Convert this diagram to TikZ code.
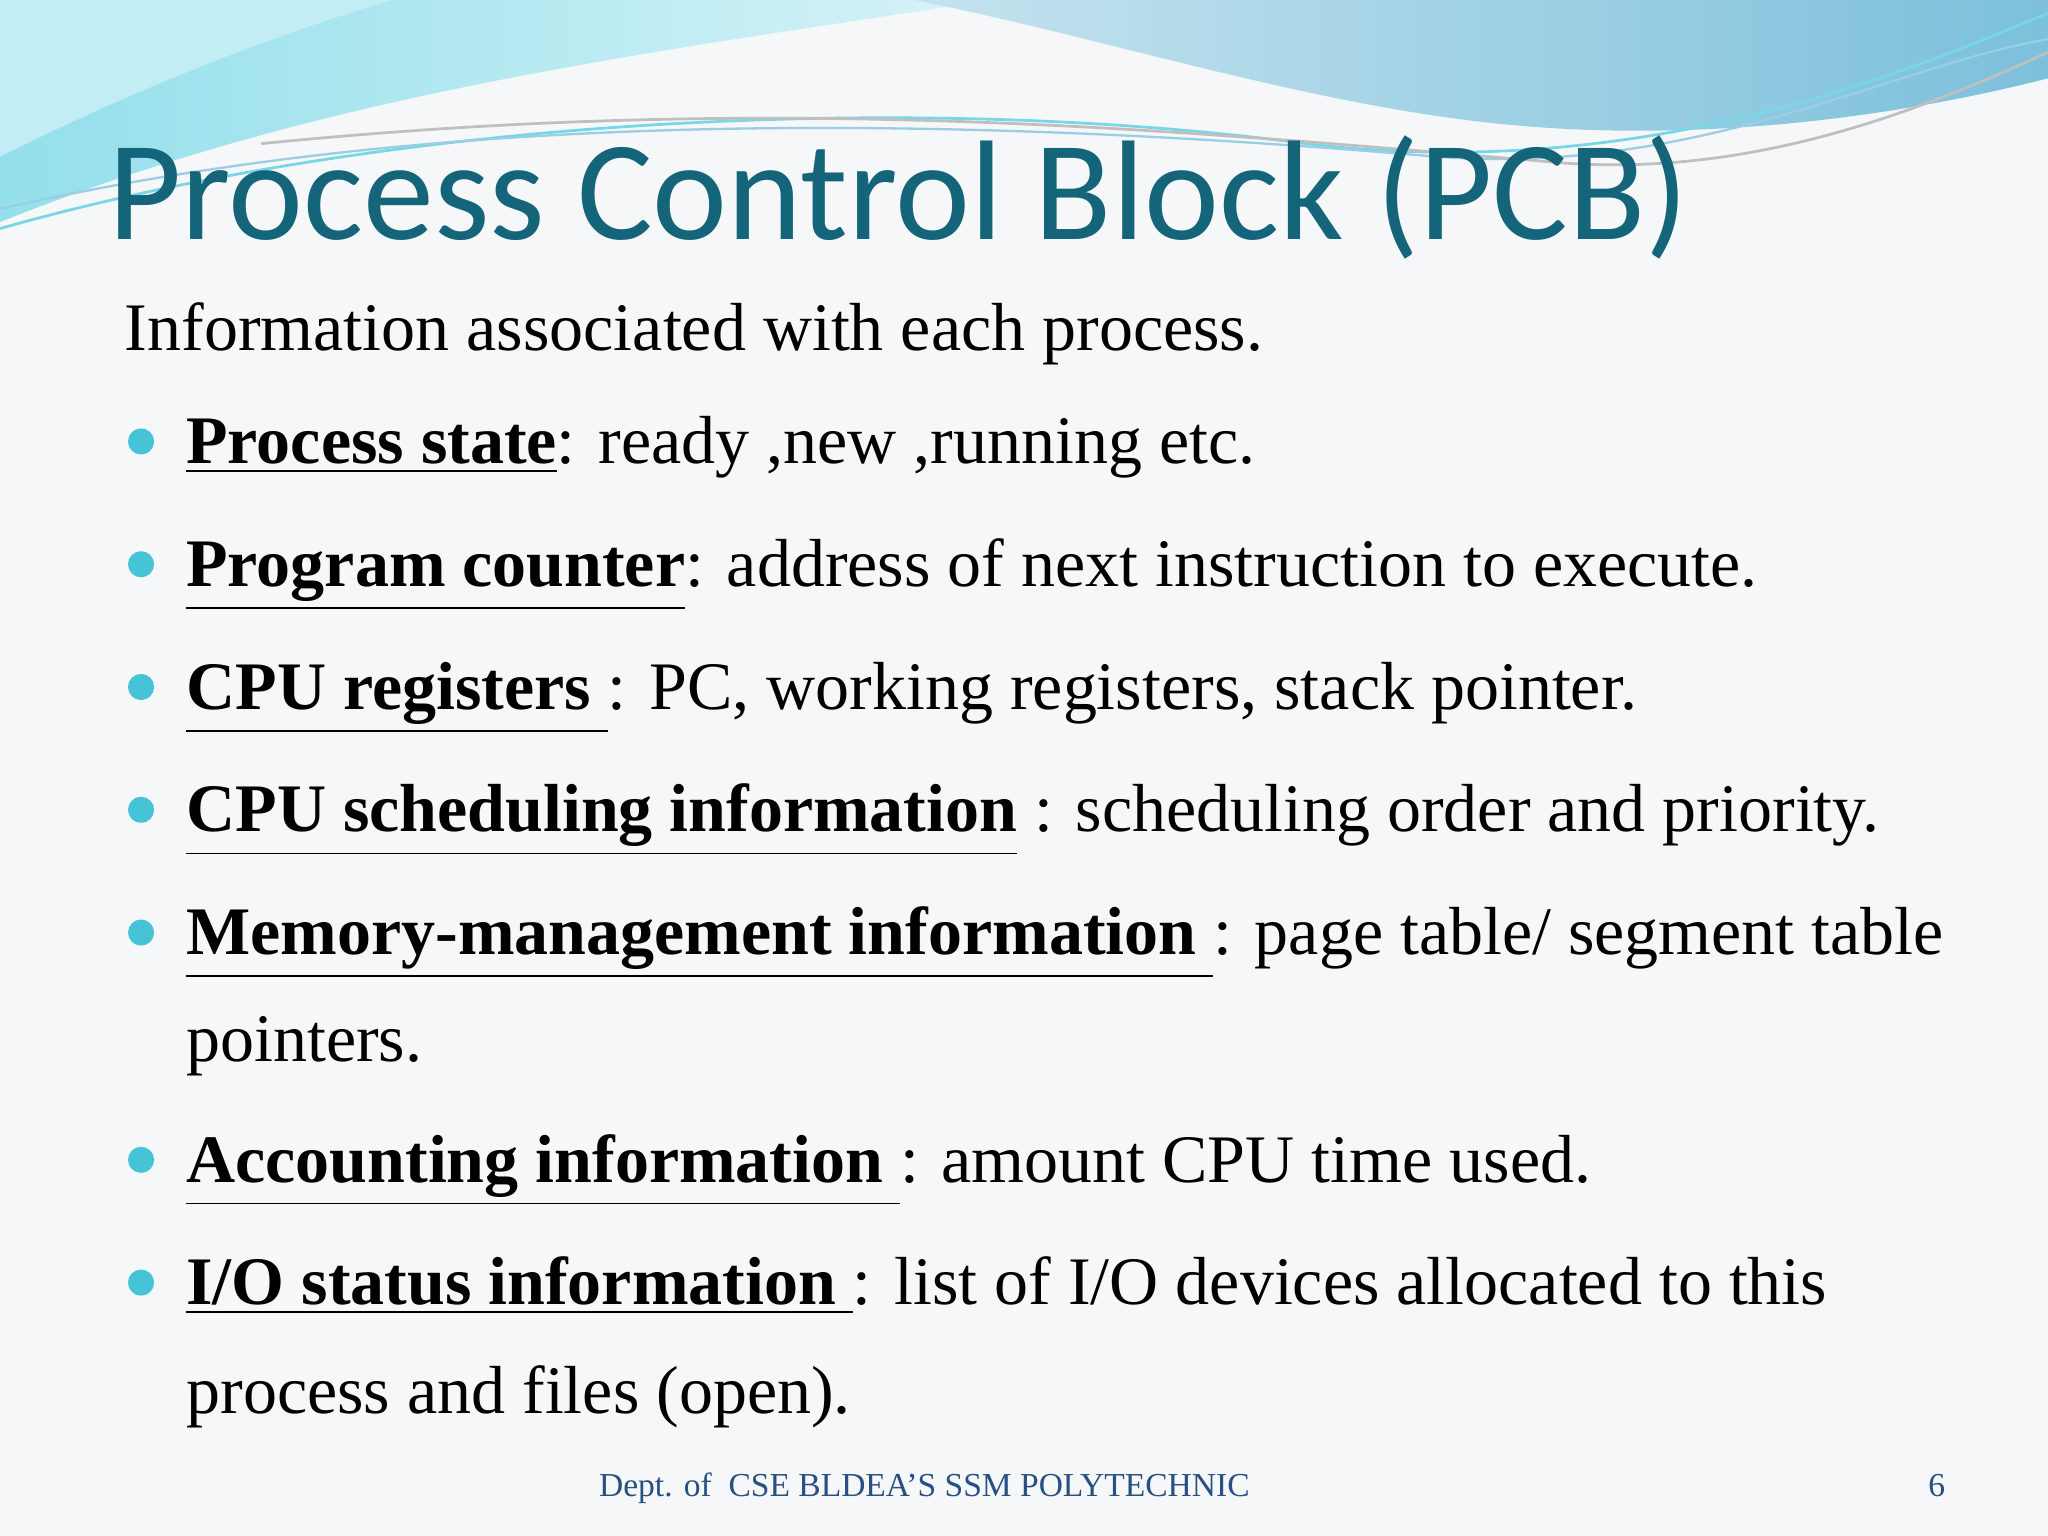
\documentclass[tikz,border=0pt]{standalone}
\usepackage{fontspec}
\setmainfont{Liberation Serif}
\newfontfamily\titlefont{Carlito}
\definecolor{titlec}{RGB}{20,100,122}
\definecolor{bulc}{RGB}{70,195,215}
\definecolor{footc}{RGB}{40,80,130}
\definecolor{bgc}{RGB}{246,247,248}
\definecolor{wavea}{RGB}{120,215,230}
\definecolor{waveb}{RGB}{110,185,215}
\newcommand{\ul}[1]{\underline{\smash{#1}}}
\begin{document}
\begin{tikzpicture}[x=0.01cm,y=-0.01cm,
  body/.style={anchor=base west,inner sep=0pt,font=\fontsize{14.8}{18}\selectfont},
  bul/.style={circle,fill=bulc,inner sep=0pt,minimum size=0.2cm}]
\useasboundingbox (0,0) rectangle (1568,1176);
\fill[bgc] (0,0) rectangle (1568,1176);
% waves
\shade[left color=wavea!80,right color=wavea!30] (0,0) -- (760,0) .. controls (500,40) and (250,70) .. (0,170) -- cycle;
\shade[left color=waveb!40,right color=waveb!90] (700,0) -- (1568,0) -- (1568,60) .. controls (1450,90) and (1300,110) .. (1150,95) .. controls (1000,80) and (850,30) .. (700,0) -- cycle;
\fill[wavea!45] (0,0) -- (300,0) .. controls (200,30) and (100,70) .. (0,120) -- cycle;
\draw[wavea,line width=0.6pt] (0,175) .. controls (300,90) and (700,70) .. (1000,110) .. controls (1250,140) and (1450,60) .. (1568,10);
\draw[waveb!70,line width=0.5pt] (0,160) .. controls (350,80) and (750,90) .. (1100,120) .. controls (1300,135) and (1450,50) .. (1568,30);
\draw[black!25,line width=0.6pt] (200,110) .. controls (600,70) and (900,100) .. (1200,125) .. controls (1350,135) and (1480,80) .. (1568,40);
% title
\node[anchor=base west,inner sep=0pt,text=titlec,font=\titlefont\fontsize{30.9}{36}\selectfont] (title) at (82,183) {Process Control Block (PCB)};
\node[body] (intro) at (95,268) {Information associated with each process.};
\foreach \n/\y in {1/338,2/432,3/526,4/620,5/714,6/888,7/982}{\node[bul] (b\n) at (108,\y) {};}
\node[body] (l1) at (142,355) {\underline{\textbf{Process state}}: ready ,new ,running etc.};
\node[body] (l2) at (142,449) {\underline{\textbf{Program counter}}: address of next instruction to execute.};
\node[body] (l3) at (142,543) {\underline{\textbf{CPU registers }}: PC, working registers, stack pointer.};
\node[body] (l4) at (142,637) {\underline{\textbf{CPU scheduling information}} : scheduling order and priority.};
\node[body] (l5) at (142,731) {\underline{\textbf{Memory-management information }}: page table/ segment table};
\node[body] (l5b) at (142,813) {pointers.};
\node[body] (l6) at (142,905) {\underline{\textbf{Accounting information }}: amount CPU time used.};
\node[body] (l7) at (142,999) {\underline{\textbf{I/O status information }}: list of I/O devices allocated to this};
\node[body] (l7b) at (142,1082) {process and files (open).};
\node[anchor=base west,inner sep=0pt,text=footc,font=\fontsize{7.3}{9}\selectfont] (foot) at (458,1146) {Dept. of\ \ CSE BLDEA\symbol{39}S SSM POLYTECHNIC};
\node[anchor=base east,inner sep=0pt,text=footc,font=\fontsize{7.3}{9}\selectfont] (pg) at (1490,1146) {6};
\end{tikzpicture}
\end{document}
